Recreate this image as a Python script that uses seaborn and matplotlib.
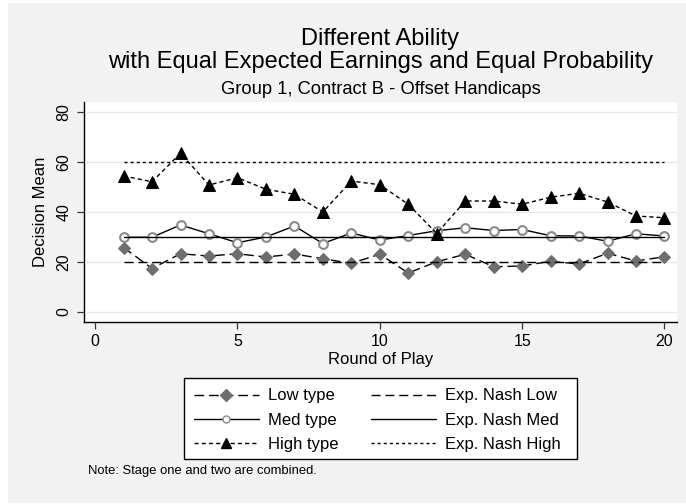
import matplotlib
matplotlib.use("Agg")
import matplotlib.pyplot as plt
import matplotlib.patches as mpatches
from matplotlib.lines import Line2D
import pandas as pd
import seaborn as sns

# Round-by-round decision means by ability type
rounds = list(range(1, 21))
low_type = [25.7, 17.3, 23.2, 22.3, 23.2, 21.9, 23.1, 21.2, 19.4, 23.0,
            15.5, 20.0, 23.0, 18.0, 18.3, 20.2, 19.1, 23.4, 20.3, 22.0]
med_type = [29.8, 29.8, 34.7, 31.2, 27.6, 29.9, 34.3, 27.3, 31.5, 28.7,
            30.5, 32.4, 33.6, 32.5, 32.9, 30.4, 30.3, 28.2, 31.2, 30.3]
high_type = [54.3, 52.0, 63.4, 50.7, 53.6, 49.0, 47.0, 39.9, 52.3, 50.8,
             43.0, 31.3, 44.3, 44.3, 43.0, 45.8, 47.4, 43.9, 38.3, 37.6]

# Expected Nash equilibrium decision for each type
nash_low = 20
nash_med = 30
nash_high = 60

series_labels = ["Low type", "Med type", "High type"]
nash_labels = ["Exp. Nash Low", "Exp. Nash Med", "Exp. Nash High"]
x_ticks = [0, 5, 10, 15, 20]
y_ticks = [0, 20, 40, 60, 80]

sns.set_style("white")
plt.rcParams["font.family"] = ["Liberation Sans", "DejaVu Sans"]
for key in ["text.color", "axes.labelcolor", "xtick.color", "ytick.color"]:
    plt.rcParams[key] = "black"

W, H = 686, 504
fig = plt.figure(figsize=(W / 100, H / 100), dpi=100, facecolor="white")
fig.patches.append(mpatches.Rectangle((8 / W, 1 / H), 1 - 8 / W, 1 - 4 / H,
                                      transform=fig.transFigure,
                                      facecolor="#f2f2f2", edgecolor="none",
                                      zorder=-10))

ax = fig.add_axes([84 / W, 1 - 322 / H, 593 / W, 220 / H])
ax.set_facecolor("white")

df = pd.DataFrame({"round": rounds, "low": low_type, "med": med_type, "high": high_type,
                   "n_low": [nash_low] * len(rounds),
                   "n_med": [nash_med] * len(rounds),
                   "n_high": [nash_high] * len(rounds)})

lw = 1.0
low_dash = (7, 3.5)
high_dash = (3, 2.2)
nlow_dash = (6.5, 3.5)
nhigh_dash = (2.2, 2.2)

style = {
    "low": dict(color="black", lw=lw, dashes=low_dash, marker="D", markersize=6.3,
                markerfacecolor="#6e6e6e", markeredgecolor="#6e6e6e"),
    "med": dict(color="black", lw=lw, marker="o", markersize=6.3,
                markerfacecolor="white", markeredgecolor="#8a8a8a", markeredgewidth=1.5),
    "high": dict(color="black", lw=lw, dashes=high_dash, marker="^", markersize=8,
                 markerfacecolor="black", markeredgecolor="black"),
    "n_low": dict(color="black", lw=lw, dashes=nlow_dash),
    "n_med": dict(color="black", lw=lw),
    "n_high": dict(color="black", lw=lw, dashes=nhigh_dash),
}

for col in ["low", "med", "high", "n_low", "n_med", "n_high"]:
    kw = dict(style[col])
    dashes = kw.pop("dashes", None)
    sns.lineplot(data=df, x="round", y=col, ax=ax, **kw)
    if dashes is not None:
        ax.lines[-1].set_dashes(dashes)

ax.set_xlim(-0.39, 20.44)
ax.set_ylim(-4.1, 83.9)
ax.set_xticks(x_ticks)
ax.set_yticks(y_ticks)
ax.yaxis.grid(True, color="#e8e8e8", lw=1.0)
ax.set_axisbelow(True)
for s in ["top", "right"]:
    ax.spines[s].set_visible(False)
for s in ["left", "bottom"]:
    ax.spines[s].set_color("black")
    ax.spines[s].set_linewidth(1.0)
ax.tick_params(axis="both", direction="out", length=5, width=0.9, color="#333333",
               labelsize=11.5, pad=4, left=True, bottom=True)
for lab in ax.get_yticklabels():
    lab.set_rotation(90)
    lab.set_va("center")
ax.set_xlabel("Round of Play", fontsize=12, labelpad=2)
ax.set_ylabel("Decision Mean", fontsize=12, labelpad=6)

# Titles
cx = 0.5 * (84 + 677) / W
fig.text(cx, 1 - 39 / H, "Different Ability", ha="center", va="center", fontsize=17)
fig.text(cx, 1 - 62 / H, "with Equal Expected Earnings and Equal Probability",
         ha="center", va="center", fontsize=17)
fig.text(cx, 1 - 89 / H, "Group 1, Contract B - Offset Handicaps",
         ha="center", va="center", fontsize=13.2)

# Legend box, drawn as its own frame
fig.patches.append(mpatches.Rectangle((184 / W, 1 - 459 / H), 393 / W, 81 / H,
                                      transform=fig.transFigure,
                                      facecolor="white", edgecolor="black",
                                      linewidth=1.0, zorder=1))
handles = [
    Line2D([], [], **{**style["low"], "markersize": 6}),
    Line2D([], [], **{**style["med"], "markersize": 5, "markeredgewidth": 1.0}),
    Line2D([], [], **{**style["high"], "markersize": 7}),
    Line2D([], [], **style["n_low"]),
    Line2D([], [], **style["n_med"]),
    Line2D([], [], **style["n_high"]),
]
leg = fig.legend(handles, series_labels + nash_labels, ncol=2, loc="center",
                 bbox_to_anchor=(377.5 / W, 1 - 420 / H), fontsize=12, frameon=False,
                 handlelength=3.9, handletextpad=0.55, columnspacing=1.95,
                 labelspacing=0.55, borderpad=0.0, numpoints=1)

fig.text(88 / W, 1 - 471 / H, "Note: Stage one and two are combined.", ha="left", va="center",
         fontsize=9.4)

fig.savefig("out.png", dpi=100, facecolor=fig.get_facecolor())
